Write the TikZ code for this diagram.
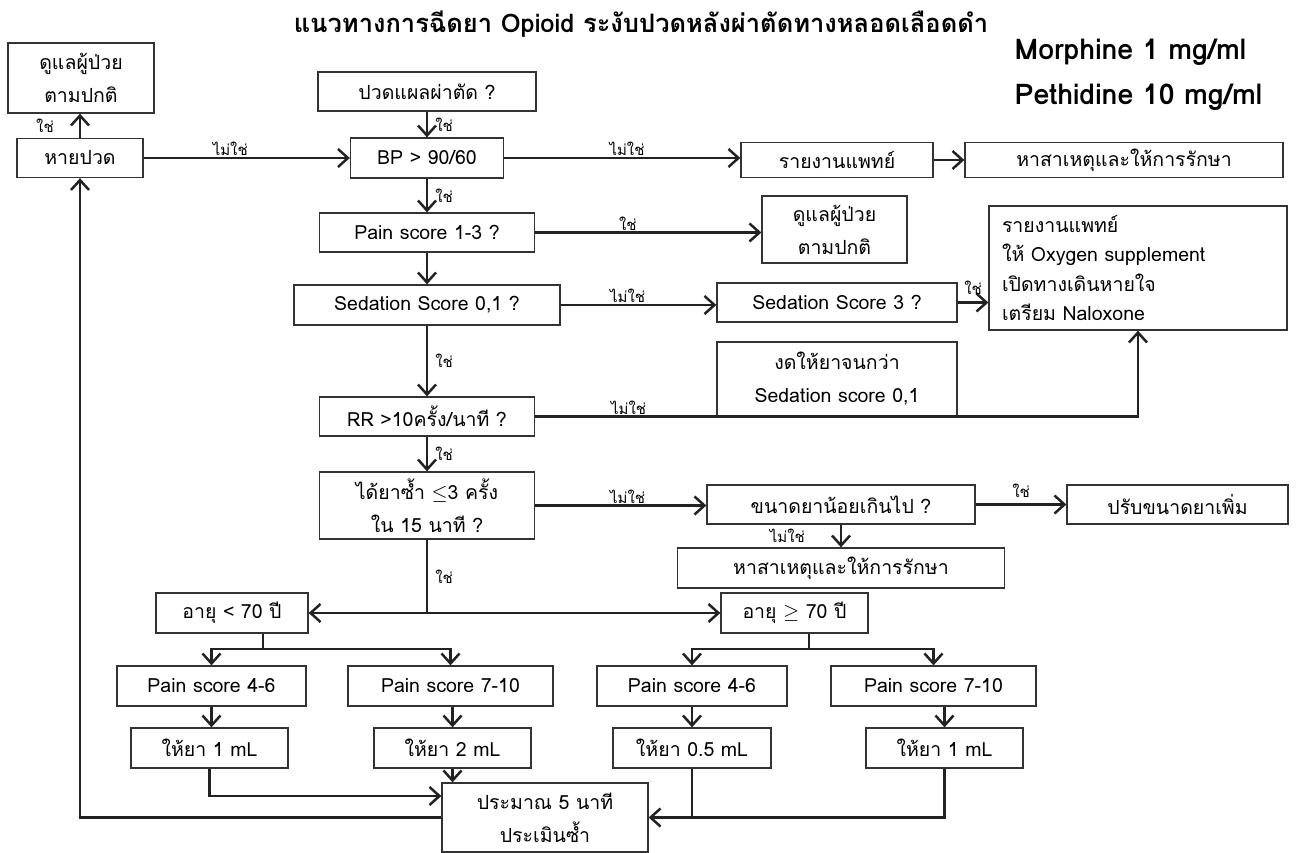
\documentclass[tikz,border=0pt]{standalone}
\usepackage{fontspec}
\setmainfont{Loma}[Script=Thai]
\usepackage{tikz}
\usetikzlibrary{arrows.meta,positioning,calc}
\definecolor{flowline}{HTML}{222222}
\definecolor{boxline}{HTML}{333333}

\begin{document}
\begin{tikzpicture}[x=1pt,y=-1pt,font=\fontsize{19.5}{33}\selectfont,
  box/.style={draw=boxline,line width=1.3pt,inner sep=0pt,align=center},
  sz/.style 2 args={minimum width=#1pt,minimum height=#2pt},
  flow/.style={draw=flowline,line width=2.5pt,-{Straight Barb[length=10pt,width=18pt]}},
  link/.style={draw=flowline,line width=2.5pt},
  tag/.style={font=\fontsize{15}{16}\selectfont,inner sep=1pt}]
  \useasboundingbox (0,0) rectangle (1296,853);
  % headings
  \node[font=\fontsize{25.5}{28}\selectfont\bfseries] (title) at (641,24) {แนวทางการฉีดยา Opioid ระงับปวดหลังผ่าตัดทางหลอดเลือดดำ};
  \node[font=\fontsize{28.5}{30}\selectfont\bfseries,anchor=west] (morph) at (1011,52) {Morphine 1 mg/ml};
  \node[font=\fontsize{28.5}{30}\selectfont\bfseries,anchor=west] (peth) at (1011,97) {Pethidine 10 mg/ml};
  % left column
  \node[box,sz={146}{70}] (care1) at (81,78) {ดูแลผู้ป่วย\\ตามปกติ};
  \node[box,sz={126}{39}] (relief) at (80,158) {หายปวด};
  % main column
  \node[box,sz={218}{39}] (pain) at (427,91.5) {ปวดแผลผ่าตัด ?};
  \node[box,sz={153}{40}] (bp) at (427,158) {BP > 90/60};
  \node[box,sz={215}{39}] (ps13) at (427,232.5) {Pain score 1-3 ?};
  \node[box,sz={266}{40}] (sed) at (427,305) {Sedation Score 0,1 ?};
  \node[box,sz={215}{39}] (rr) at (427,416.5) {RR >10ครั้ง/นาที ?};
  \node[box,sz={215}{67}] (drug) at (427,505.5) {ได้ยาซ้ำ $\leq$3 ครั้ง\\ใน 15 นาที ?};
  % right side
  \node[box,sz={192}{35}] (report) at (837,160) {รายงานแพทย์};
  \node[box,sz={318}{35}] (treat1) at (1124,160) {หาสาเหตุและให้การรักษา};
  \node[box,sz={145}{67}] (care2) at (834.5,229.5) {ดูแลผู้ป่วย\\ตามปกติ};
  \node[box,sz={240}{39}] (sed3) at (837,302.5) {Sedation Score 3 ?};
  \node[box,sz={298}{124},align=left,text width=272pt,font=\fontsize{19.5}{29.5}\selectfont] (act) at (1138,268)
    {รายงานแพทย์\\ให้ Oxygen supplement\\เปิดทางเดินหายใจ\\เตรียม Naloxone};
  \node[box,sz={240}{74}] (hold) at (837,379) {งดให้ยาจนกว่า\\Sedation score 0,1};
  \node[box,sz={268}{39}] (dose) at (841,504.5) {ขนาดยาน้อยเกินไป ?};
  \node[box,sz={221}{39}] (adjust) at (1177.5,504.5) {ปรับขนาดยาเพิ่ม};
  \node[box,sz={327}{40}] (treat2) at (841,568) {หาสาเหตุและให้การรักษา};
  % age groups and doses
  \node[box,sz={152}{40}] (age1) at (232,613) {อายุ < 70 ปี};
  \node[box,sz={147}{40}] (age2) at (794.5,613) {อายุ $\geq$ 70 ปี};
  \node[box,sz={189}{40}] (ps1) at (211.5,686) {Pain score 4-6};
  \node[box,sz={205}{40}] (ps2) at (450.5,686) {Pain score 7-10};
  \node[box,sz={190}{40}] (ps3) at (692,686) {Pain score 4-6};
  \node[box,sz={205}{40}] (ps4) at (933.5,686) {Pain score 7-10};
  \node[box,sz={157}{40}] (d1) at (209.5,748) {ให้ยา 1 mL};
  \node[box,sz={157}{40}] (d2) at (452.5,748) {ให้ยา 2 mL};
  \node[box,sz={158}{40}] (d3) at (692,748) {ให้ยา 0.5 mL};
  \node[box,sz={157}{40}] (d4) at (944.5,748) {ให้ยา 1 mL};
  \node[box,sz={206}{69}] (reeval) at (545,817.5) {ประมาณ 5 นาที\\ประเมินซ้ำ};
  \coordinate (forkM) at (427,613);
  \coordinate (forkA) at (263,649);
  \coordinate (forkB) at (809,649);

  % connectors
  \draw[flow] (relief.north) -- node[tag,left=24pt] (y1) {ใช่} (relief.north |- care1.south);
  \draw[flow] (relief.east) -- node[tag,above,pos=0.42] (n1) {ไม่ใช่} (relief.east -| bp.west);
  \draw[flow] (pain) -- node[tag,right=6pt] (y2) {ใช่} (bp);
  \draw[flow] (bp.east) -- node[tag,above,pos=0.52] (n2) {ไม่ใช่} (bp.east -| report.west);
  \draw[flow] (report) -- (treat1);
  \draw[flow] (bp) -- node[tag,right=6pt] (y3) {ใช่} (ps13);
  \draw[flow] (ps13.east) -- node[tag,above,pos=0.41] (y4) {ใช่} (ps13.east -| care2.west);
  \draw[flow] (ps13) -- (sed);
  \draw[flow] (sed.east) -- node[tag,above,pos=0.43] (n3) {ไม่ใช่} (sed.east -| sed3.west);
  \draw[flow] (sed3.east) -- node[tag,above=6pt] (y5) {ใช่} (sed3.east -| act.west);
  \draw[flow] (sed) -- node[tag,right=6pt] (y6) {ใช่} (rr);
  \draw[flow] (rr.east) -- node[tag,above,pos=0.155] (n4) {ไม่ใช่} (rr.east -| act.south) -- (act.south);
  \draw[flow] (rr) -- node[tag,right=6pt] (y7) {ใช่} (drug);
  \draw[flow] (drug.east) -- node[tag,above,pos=0.54] (n5) {ไม่ใช่} (drug.east -| dose.west);
  \draw[flow] (dose.east) -- node[tag,above=5pt] (y8) {ใช่} (dose.east -| adjust.west);
  \draw[flow] (dose) -- node[tag,left=34pt] (n6) {ไม่ใช่} (treat2);
  \draw[link] (drug) -- node[tag,right=6pt] (y9) {ใช่} (forkM);
  \draw[flow] (forkM) -- (age1.east);
  \draw[flow] (forkM) -- (age2.west);
  \draw[link] (forkA |- age1.south) -- (forkA);
  \draw[flow] (forkA) -| (ps1);
  \draw[flow] (forkA) -| (ps2);
  \draw[link] (forkB |- age2.south) -- (forkB);
  \draw[flow] (forkB) -| (ps3);
  \draw[flow] (forkB) -| (ps4);
  \draw[flow] (ps1.south) -- (ps1.south |- d1.north);
  \draw[flow] (d2.north |- ps2.south) -- (d2.north);
  \draw[flow] (ps3) -- (d3);
  \draw[flow] (d4.north |- ps4.south) -- (d4.north);
  \draw[flow] (d1.south) |- ([yshift=21.5pt]reeval.west);
  \draw[flow] (d2.south) -- (d2.south |- reeval.north);
  \draw[link] (d3.south) -- (d3.south |- reeval.east);
  \draw[flow] (d4.south) |- (reeval.east);
  \draw[flow] (reeval.west) -| (relief.south);
\end{tikzpicture}
\end{document}
